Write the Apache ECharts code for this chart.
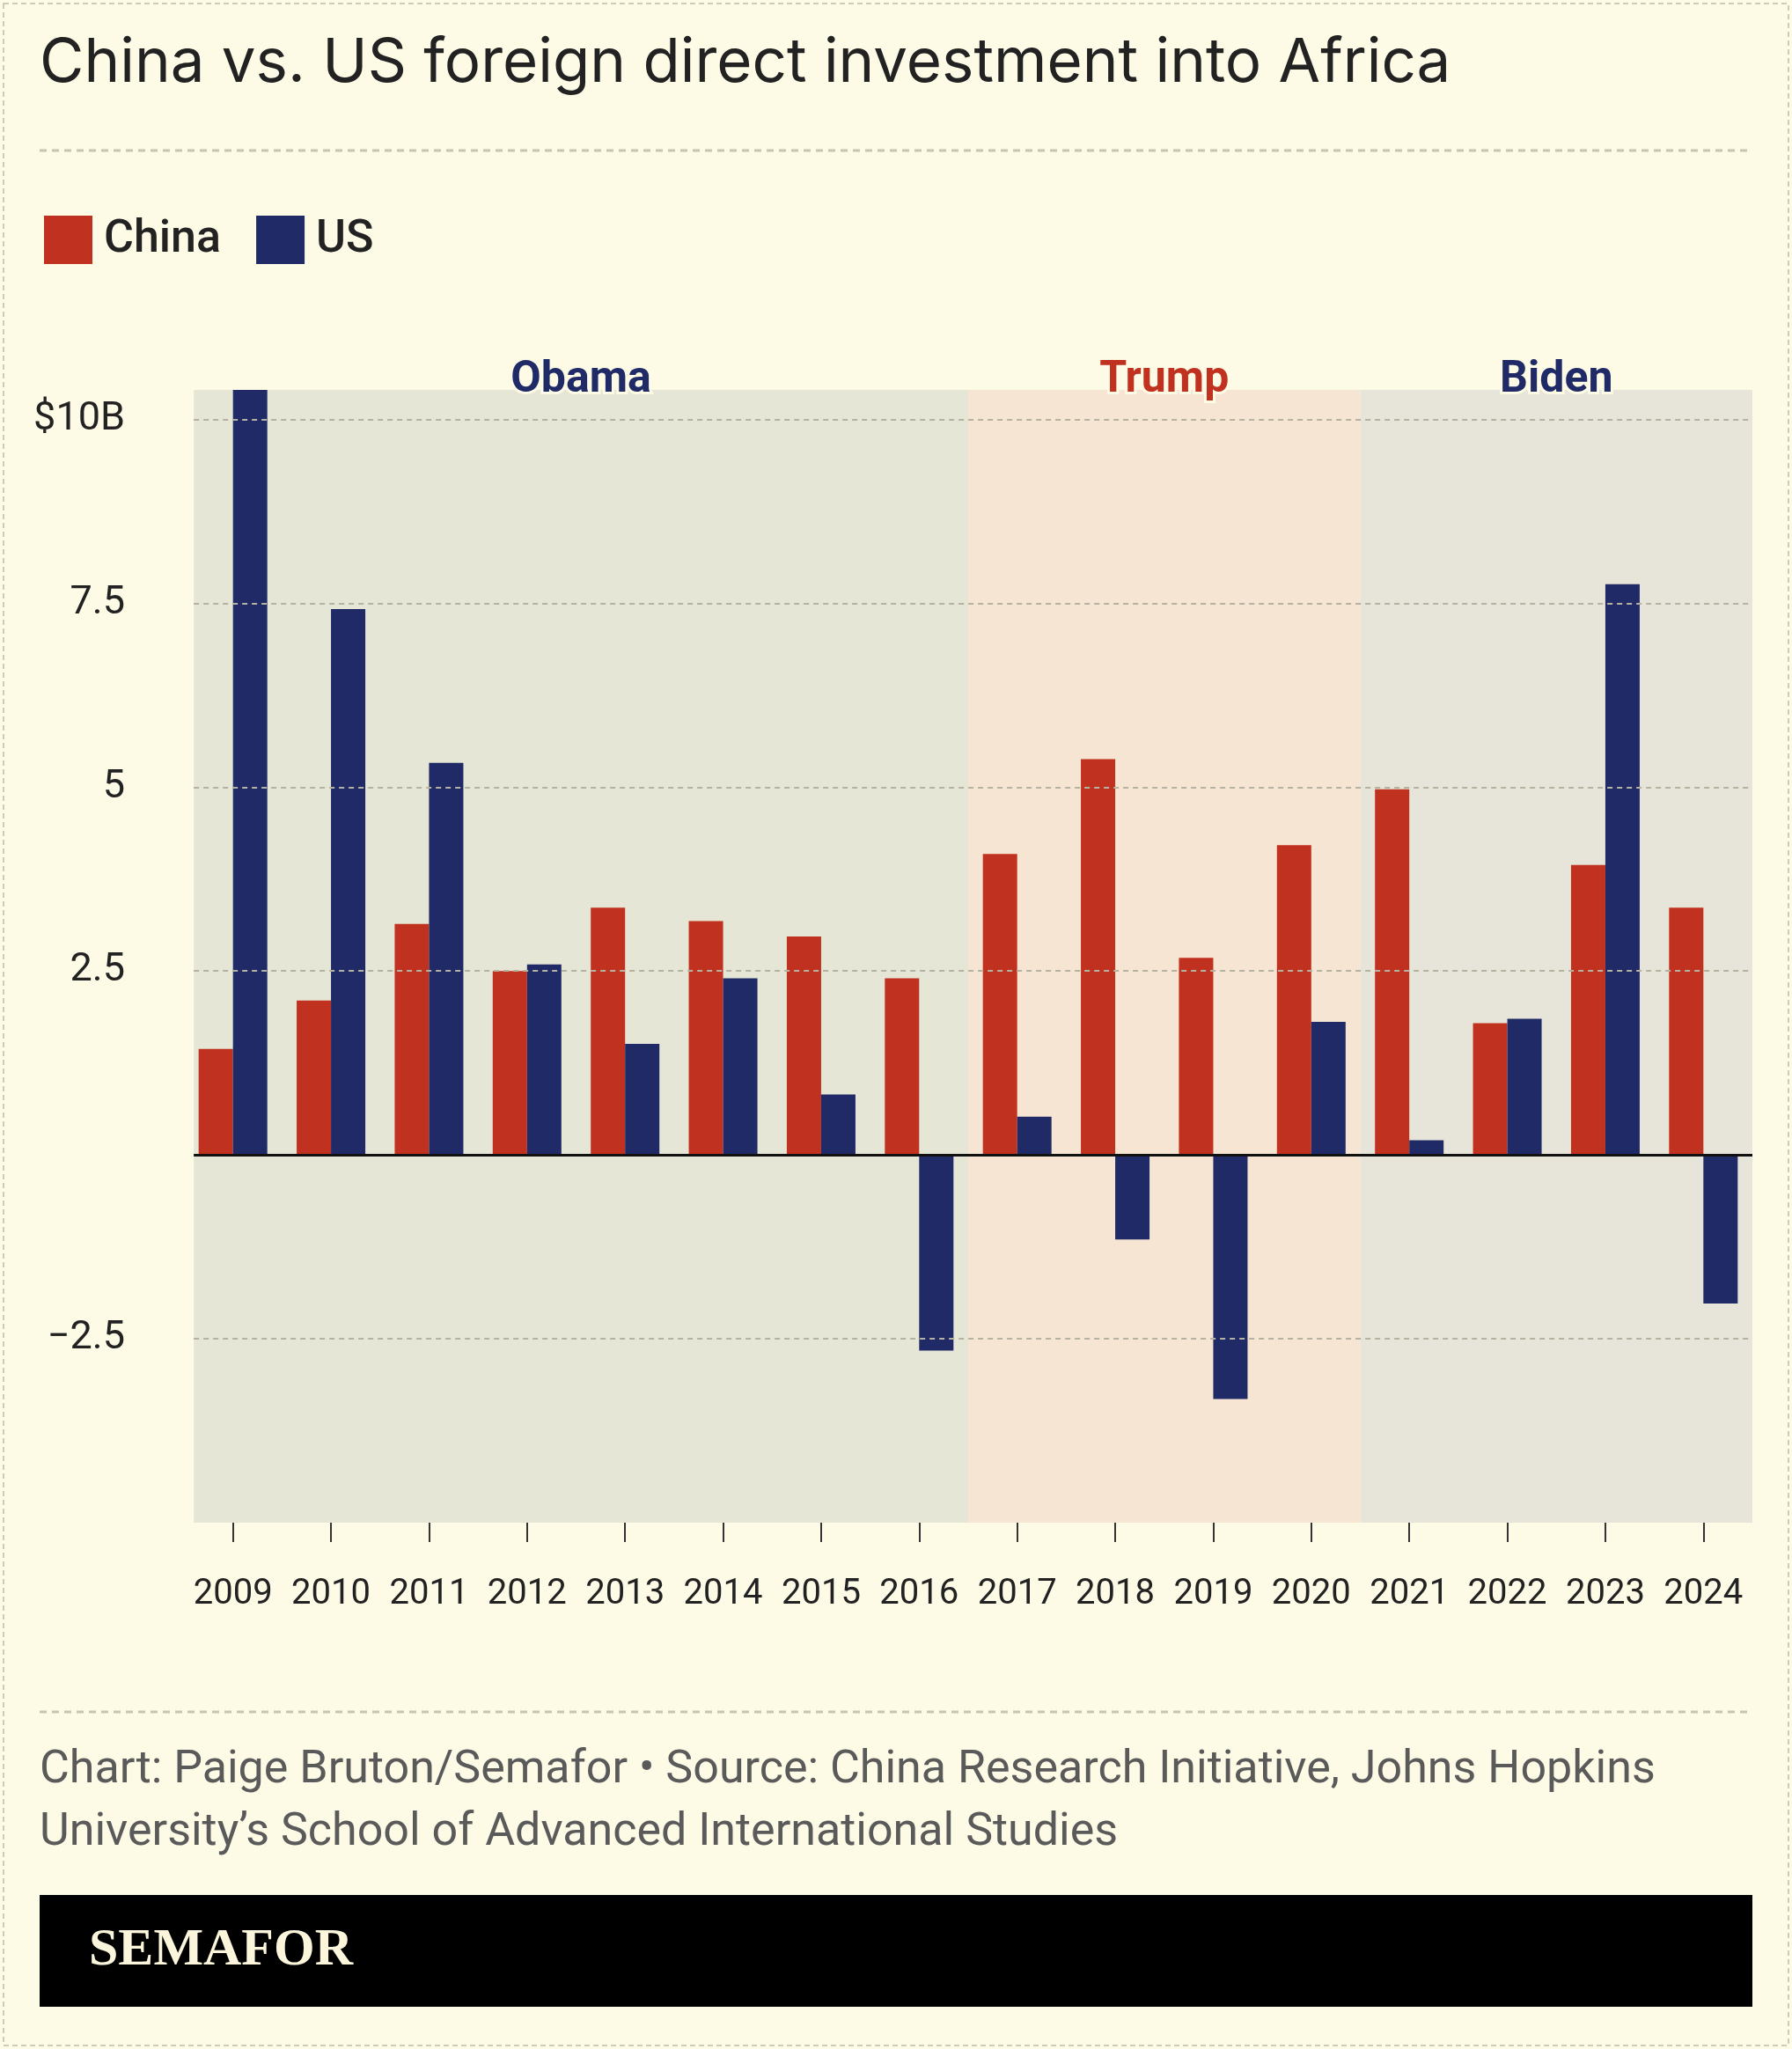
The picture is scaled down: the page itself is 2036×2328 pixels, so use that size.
<!DOCTYPE html>
<html>
<head>
<meta charset="utf-8">
<title>China vs. US FDI into Africa</title>
<script src="https://cdn.jsdelivr.net/npm/echarts@6/dist/echarts.min.js"></script>
<style>
html,body{margin:0;padding:0;background:#fdfae6;}
#chart{width:2036px;height:2328px;}
</style>
</head>
<body>
<div id="chart"></div>
<script>
var years = ['2009','2010','2011','2012','2013','2014','2015','2016','2017','2018','2019','2020','2021','2022','2023','2024'];
var china = [1.44, 2.1, 3.14, 2.5, 3.36, 3.18, 2.97, 2.4, 4.09, 5.38, 2.68, 4.21, 4.97, 1.79, 3.94, 3.36];
var us = [10.4, 7.42, 5.33, 2.59, 1.51, 2.4, 0.82, -2.66, 0.52, -1.15, -3.32, 1.81, 0.2, 1.85, 7.76, -2.02];
var terms = [
  {name: 'Obama', from: -0.4, to: 7.5, fill: '#e6e6d6', color: '#1f2a66'},
  {name: 'Trump', from: 7.5, to: 11.5, fill: '#f6e5d2', color: '#c0321f'},
  {name: 'Biden', from: 11.5, to: 15.5, fill: '#e7e5d9', color: '#1f2a66'}
];
var gridValues = [10, 7.5, 5, 2.5, -2.5];
var yLabels = {'10': '$10B', '7.5': '7.5', '5': '5', '2.5': '2.5', '-2.5': '\u22122.5'};

var chart = echarts.init(document.getElementById('chart'));
var font = 'Roboto, "Noto Sans", sans-serif';

function hline(v) {
  return [{coord: [-0.4, v]}, {coord: [15.5, v]}];
}

chart.setOption({
  backgroundColor: '#fdfae6',
  animation: false,
  textStyle: {fontFamily: font},
  graphic: [
    {type: 'rect', shape: {x: 4, y: 4, width: 2028, height: 2320}, style: {fill: 'none', stroke: '#cfcbb5', lineWidth: 2, lineDash: [6, 4]}},
    {type: 'text', left: 45, top: 38, style: {text: 'China vs. US foreign direct investment into Africa', font: '400 69px Inter, sans-serif', fill: '#222'}},
    {type: 'line', shape: {x1: 45, y1: 171, x2: 1991, y2: 171}, style: {stroke: '#c8c4b0', lineWidth: 3, lineDash: [8, 6]}},
    {type: 'line', shape: {x1: 45, y1: 1945, x2: 1991, y2: 1945}, style: {stroke: '#c8c4b0', lineWidth: 3, lineDash: [8, 6]}},
    {type: 'text', left: 45, top: 1976, style: {text: 'Chart: Paige Bruton/Semafor \u2022 Source: China Research Initiative, Johns Hopkins\nUniversity\u2019s School of Advanced International Studies', font: '400 52px Roboto, sans-serif', fill: '#5a5a5a', lineHeight: 71}},
    {type: 'rect', shape: {x: 45, y: 2153, width: 1946, height: 127}, style: {fill: '#000'}},
    {type: 'text', left: 101, top: 2186, style: {text: 'SEMAFOR', font: 'bold 60px "Liberation Serif", serif', fill: '#fbf5dc'}}
  ],
  legend: {
    left: 45, top: 240, itemWidth: 55, itemHeight: 55, itemGap: 40,
    icon: 'rect',
    textStyle: {fontSize: 52, fontWeight: 500, color: '#222', padding: [0, 0, 0, 8]},
    data: ['China', 'US']
  },
  grid: {left: 209, right: 45, top: 443, bottom: 598, containLabel: false},
  xAxis: [
    {
      type: 'category', data: years,
      axisLine: {show: true, onZero: false, lineStyle: {color: 'rgba(0,0,0,0)'}},
      axisTick: {show: true, alignWithLabel: true, length: 22, lineStyle: {color: '#333', width: 2}},
      axisLabel: {interval: 0, fontSize: 40, color: '#222', margin: 62}
    },
    {type: 'value', min: -0.5, max: 15.5, show: false}
  ],
  yAxis: {
    type: 'value', min: -5, max: 10.4, interval: 2.5,
    axisLine: {show: false}, axisTick: {show: false},
    axisLabel: {
      fontSize: 45, color: '#222', margin: 67,
      showMaxLabel: false,
      formatter: function (v) { return yLabels[String(v)] || ''; }
    },
    splitLine: {show: false}
  },
  series: [
    {
      name: 'terms', type: 'line', xAxisIndex: 1, data: [], silent: true,
      markArea: {
        silent: true,
        data: terms.map(function (t) {
          return [{
            xAxis: t.from, name: t.name,
            itemStyle: {color: t.fill},
            label: {
              show: true, position: 'insideTop', distance: -36, color: t.color,
              fontSize: 50, fontWeight: 'bold', fontFamily: font,
              textBorderColor: '#fdfae6', textBorderWidth: 6
            }
          }, {xAxis: t.to}];
        })
      },
      markLine: {
        silent: true, symbol: 'none', label: {show: false},
        lineStyle: {color: '#b5b2a2', width: 2, type: [6, 5]},
        data: gridValues.map(hline)
      },
      z: 0
    },
    {
      name: 'China', type: 'bar', data: china, barWidth: 39, barGap: '0%',
      itemStyle: {color: '#c0321f'}
    },
    {
      name: 'US', type: 'bar', data: us, barWidth: 39,
      itemStyle: {color: '#1f2a66'}
    },
    {
      name: 'zero', type: 'line', xAxisIndex: 1, data: [], silent: true, z: 5,
      markLine: {
        silent: true, symbol: 'none', label: {show: false},
        lineStyle: {color: '#111', width: 3, type: 'solid'},
        data: [hline(0)]
      }
    }
  ]
});
</script>
</body>
</html>
